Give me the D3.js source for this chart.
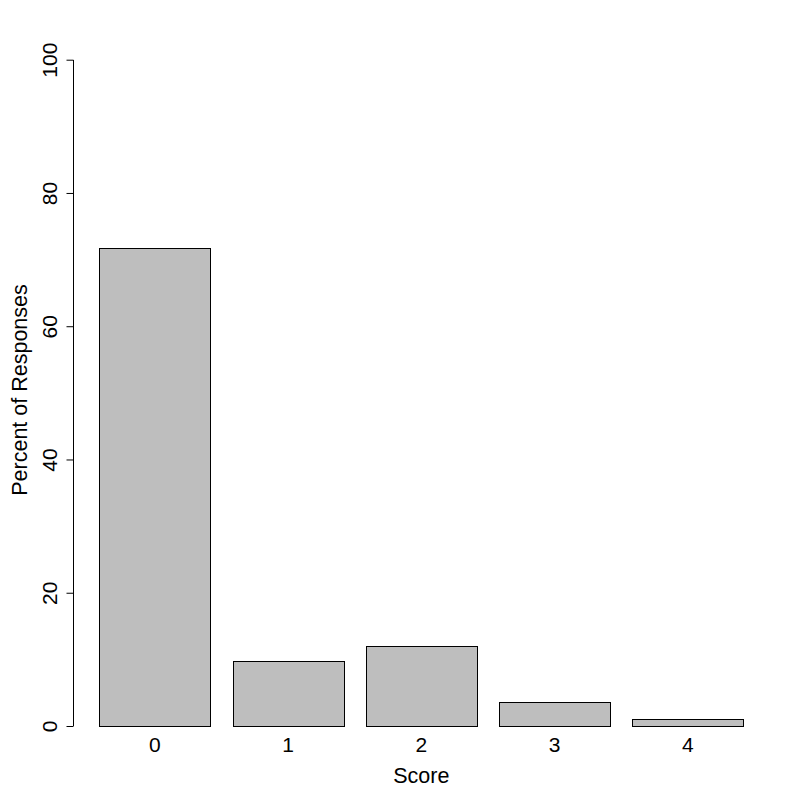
<!DOCTYPE html>
<html>
<head>
<meta charset="utf-8">
<script src="https://cdn.jsdelivr.net/npm/d3@7"></script>
<style>
  html, body { margin: 0; padding: 0; background: #fff; }
  svg { display: block; }
  text { font-family: Arial, "Liberation Sans", sans-serif; fill: #000; }
</style>
</head>
<body>
<svg id="chart" width="800" height="800"></svg>
<script>
const categories = ["0", "1", "2", "3", "4"];
const percents = [71.8, 9.7, 11.95, 3.55, 1.0];
const yTicks = [0, 20, 40, 60, 80, 100];
const xTitle = "Score";
const yTitle = "Percent of Responses";

const svg = d3.select("#chart");

const x = d3.scaleBand()
  .domain(categories)
  .range([99.3, 743.3])
  .paddingInner(0.2 / 1.2)
  .paddingOuter(0);

const y = d3.scaleLinear().domain([0, 100]).range([726, 59.7]);

// bars
svg.append("g")
  .selectAll("rect")
  .data(categories.map((c, i) => ({ c, v: percents[i] })))
  .join("rect")
  .attr("x", d => Math.round(x(d.c)) + 0.5)
  .attr("y", d => Math.round(y(d.v)) + 0.5)
  .attr("width", Math.round(x.bandwidth()))
  .attr("height", d => Math.round(y(0)) - Math.round(y(d.v)))
  .attr("fill", "#BEBEBE")
  .attr("stroke", "#000")
  .attr("stroke-width", 1);

// y axis
const yAxis = d3.axisLeft(y).tickValues(yTicks).tickSize(7).tickPadding(0).tickFormat(d3.format("d"));
const gy = svg.append("g").attr("transform", "translate(73.5,0)").call(yAxis);
gy.select(".domain").attr("d", `M0,${Math.round(y(0))}V${Math.round(y(100))}`).attr("stroke", "#000");
gy.selectAll(".tick line").attr("stroke", "#000");
gy.selectAll(".tick text")
  .attr("x", null).attr("dy", null)
  .attr("transform", "translate(-17,0) rotate(-90)")
  .attr("text-anchor", "middle")
  .attr("dy", 0)
  .style("font-size", "21px")
  .style("font-family", "Arial, 'Liberation Sans', sans-serif");

// x labels (no axis line, like base R barplot)
svg.append("g")
  .selectAll("text")
  .data(categories)
  .join("text")
  .attr("x", d => x(d) + x.bandwidth() / 2)
  .attr("y", 752)
  .attr("text-anchor", "middle")
  .style("font-size", "21px")
  .text(d => d);

// axis titles
svg.append("text")
  .attr("x", (x.range()[0] + x.range()[1]) / 2)
  .attr("y", 783.3)
  .attr("text-anchor", "middle")
  .style("font-size", "21.5px")
  .text(xTitle);

svg.append("text")
  .attr("transform", `translate(26.7,${(285 + 495) / 2}) rotate(-90)`)
  .attr("text-anchor", "middle")
  .style("font-size", "21.5px")
  .text(yTitle);
</script>
</body>
</html>
